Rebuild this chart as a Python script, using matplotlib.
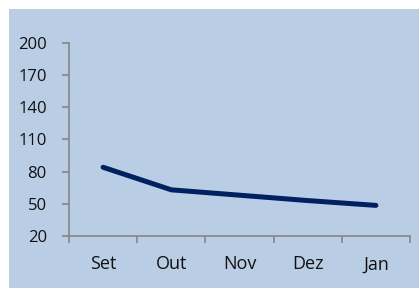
import matplotlib
matplotlib.use("Agg")
import matplotlib.pyplot as plt
from matplotlib.patches import Rectangle

months = ["Set", "Out", "Nov", "Dez", "Jan"]
values = [84, 63, 58, 53, 48.5]
yticks = [20, 50, 80, 110, 140, 170, 200]

W, H = 419, 289
fig = plt.figure(figsize=(W / 100, H / 100), dpi=100, facecolor="white")
plt.rcParams["font.family"] = ["Open Sans", "DejaVu Sans"]

bg = Rectangle((9 / W, 1 / H), 1 - 9 / W, (288 - 9) / H, transform=fig.transFigure,
               facecolor="#b9cde5", edgecolor="none", zorder=-10)
fig.patches.append(bg)

ax = fig.add_axes([69 / W, (H - 236) / H, (410 - 69) / W, (236 - 42.7) / H])
ax.set_facecolor("none")
ax.set_zorder(5)

x = list(range(len(months)))
ax.plot(x, values, color="#002060", lw=3.6, solid_capstyle="round", zorder=3)

ax.set_xlim(-0.5, len(months) - 0.5)
ax.set_ylim(20, 200)
ax.set_yticks(yticks)
ax.set_yticklabels([str(v) for v in yticks], fontsize=12, color="#111111")

ax.set_xticks([i - 0.5 for i in range(len(months) + 1)])
ax.set_xticklabels([])
ax.set_xticks(x, minor=True)
ax.set_xticklabels(months, minor=True, fontsize=13, color="#111111")

gray = "#868686"
for s in ["top", "right"]:
    ax.spines[s].set_visible(False)
for s in ["left", "bottom"]:
    ax.spines[s].set_color(gray)
    ax.spines[s].set_linewidth(1.2)

ax.tick_params(axis="y", which="major", direction="out", length=5, width=1.2, color=gray, pad=11)
ax.tick_params(axis="x", which="major", direction="out", length=5, width=1.2, color=gray)
ax.tick_params(axis="x", which="minor", length=0, pad=14)

fig.savefig("out.png", dpi=100, facecolor="white")
